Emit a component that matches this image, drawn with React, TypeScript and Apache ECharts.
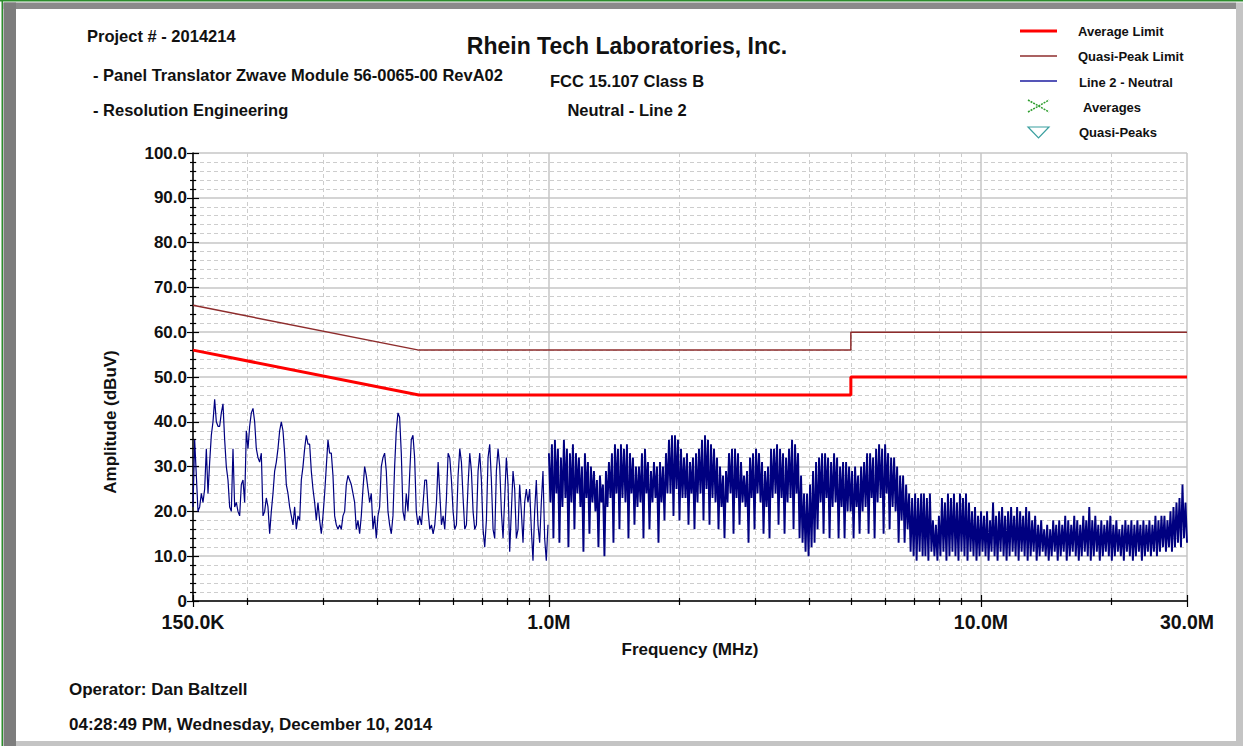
import React, { useEffect, useRef } from "react";
import * as echarts from "echarts";

// ---------- DATA ----------
// Limits (frequency in MHz, level in dBuV)
const limitFreqs = [0.15, 0.5, 5, 5, 30];
const avgLimit = [56, 46, 46, 50, 50];
const qpLimit = [66, 56, 56, 60, 60];

// Measured trace "Line 2 - Neutral", read off the plot, in sweep segments
// (each segment: start MHz, end MHz, levels in dBuV spread across it)
const seg1Values = [
  21, 36, 28, 20, 21, 24, 22, 25, 34, 24,
  31, 37, 40, 45, 40, 39, 39, 42, 44, 36,
  30, 27, 21, 20, 34, 21, 22, 20, 19, 26,
  27, 22, 38, 34, 39, 42, 43, 40, 34, 32,
  31, 33, 19, 20, 23, 21, 15, 20, 24, 29,
  31, 34, 38, 40, 38, 33, 26, 24, 21, 19,
  17, 21, 16, 19, 18, 27, 30, 34, 37, 35,
  35, 29, 25, 22, 18, 22, 18, 15, 19, 24,
  30, 36, 33, 33, 28, 19, 17, 16, 17, 16,
  19, 20, 26, 28, 27, 26, 24, 22, 16, 18,
  15, 19, 25, 30, 28, 25, 22, 24, 16, 19,
  14, 19, 21, 30, 32, 33, 29, 20, 17, 15,
  19, 30, 38, 42, 41, 33, 20, 18, 24, 20,
  28, 36, 37, 32, 20, 17, 19,
];
const seg2Values = [
  17, 22, 27, 27, 20, 16, 17, 15, 17, 22,
  31, 24, 17, 19, 16, 23, 33, 32, 27, 20,
  16, 17, 28, 34, 31, 23, 16, 17, 26, 33,
  29, 20, 16, 17, 29, 33, 27, 16, 12, 18,
  32, 35, 27, 16, 14, 29, 34, 30, 20, 14,
  23, 32, 26, 11, 20, 29, 25, 14, 16, 26,
  20, 13, 22, 25, 22, 25, 16, 9, 20, 27,
  17, 13, 22, 29, 14, 9, 17,
];
const seg3Values = [
  33, 22, 35, 14, 36, 24, 34, 13, 32, 21,
  36, 23, 34, 12, 33, 22, 35, 16, 33, 24,
  32, 21, 30, 11, 33, 23, 31, 15, 30, 22,
  29, 20, 27, 12, 28, 22, 26, 10, 29, 21,
  31, 23, 33, 13, 35, 24, 34, 16, 35, 23,
  34, 22, 35, 14, 33, 24, 32, 17, 30, 21,
  30, 22, 33, 14, 34, 24, 31, 16, 29, 22,
  31, 23, 30, 13, 31, 22, 30, 18, 33, 24,
  36, 24, 37, 19, 37, 25, 36, 18, 34, 23,
  32, 23, 33, 17, 31, 24, 32, 16, 33, 22,
  34, 24, 36, 18, 37, 25, 36, 17, 35, 23,
  34, 22, 32, 16, 30, 21, 28, 14, 29, 22,
  33, 24, 34, 15, 34, 23, 33, 17, 31, 22,
  28, 21, 29, 13, 32, 23, 33, 16, 34, 24,
  33, 22, 31, 15, 29, 21, 30, 14, 34, 23,
  34, 24, 35, 17, 34, 23, 33, 15, 32, 22,
  34, 23, 36, 16, 35, 24, 33, 14, 28, 13,
  24, 11, 24, 10, 26, 12, 29, 13, 31, 16,
  32, 22, 33, 15, 33, 23, 32, 14, 31, 21,
  33, 22, 32, 14, 30, 21, 31, 14, 31, 20,
  30, 20, 29, 14, 30, 21, 28, 15, 30, 20,
  31, 21, 33, 15, 33, 23, 32, 14, 34, 22,
  35, 23, 34, 15, 35, 24, 33, 16, 32, 21,
  32, 20, 30, 13, 28, 18, 28, 13, 26, 16,
  24, 11, 23, 10, 24, 9, 23, 11, 24, 10,
];
const seg4Values = [
  24, 10, 23, 9, 24, 11, 18, 10, 17, 9,
  19, 10, 23, 11, 22, 9, 24, 10, 23, 11,
  24, 10, 22, 9, 24, 11, 23, 10, 24, 9,
  22, 11, 20, 10, 21, 9, 19, 10, 20, 11,
  19, 10, 20, 9, 18, 11, 22, 10, 19, 9,
  20, 11, 21, 10, 19, 9, 20, 10, 21, 11,
  19, 10, 21, 9, 20, 11, 19, 10, 21, 9,
  20, 10, 18, 11, 19, 9, 17, 10, 18, 11,
  16, 10, 17, 9, 16, 10, 18, 11, 17, 9,
  18, 10, 17, 11, 19, 9, 18, 10, 17, 11,
  19, 10, 18, 9, 17, 10, 19, 11, 18, 10,
  21, 9, 18, 10, 19, 11, 17, 9, 18, 10,
  17, 11, 18, 10, 19, 9, 17, 10, 18, 11,
  16, 10, 17, 9, 18, 11, 17, 10, 18, 9,
  17, 10, 18, 11, 17, 9, 18, 10, 17, 11,
  18, 10, 17, 11, 19, 10, 18, 11, 19, 12,
  19, 11, 18, 12, 20, 11, 21, 12, 22, 13,
  23, 12, 26, 14, 22, 13,
];
const segStart = [0.15, 0.507, 1.0, 7.38];
const segEnd = [0.502, 0.995, 7.33, 30];
const segValues = [seg1Values, seg2Values, seg3Values, seg4Values];

// ---------- HELPERS ----------
const FONT = '"Liberation Sans", Arial, Helvetica, sans-serif';

function buildTrace(segIdx: number[]): number[][] {
  const pts: number[][] = [];
  segIdx.forEach((s) => {
    const vals = segValues[s];
    const n = vals.length;
    const ratio = segEnd[s] / segStart[s];
    vals.forEach((v, i) => {
      pts.push([segStart[s] * Math.pow(ratio, i / (n - 1)), v]);
    });
  });
  return pts;
}

function pairs(xs: number[], ys: number[]): number[][] {
  return xs.map((x, i) => [x, ys[i]]);
}

function freqLabel(v: number): string {
  if (v < 1) return (v * 1000).toFixed(1) + "K";
  return v.toFixed(1) + "M";
}

function txt(text: string, x: number, y: number, size: number, align = "left", rotation = 0) {
  return {
    type: "text",
    x,
    y,
    rotation,
    silent: true,
    style: {
      text,
      fill: "#111",
      fontSize: size,
      fontWeight: "bold",
      fontFamily: FONT,
      align,
      textAlign: align,
      verticalAlign: "middle",
      textVerticalAlign: "middle",
    },
  };
}

function seg(x1: number, y1: number, x2: number, y2: number, color: string, w: number) {
  return {
    type: "line",
    silent: true,
    shape: { x1, y1, x2, y2 },
    style: { stroke: color, lineWidth: w },
  };
}

function hline(x1: number, x2: number, y: number, color: string, w: number) {
  return seg(x1, y, x2, y, color, w);
}

export default function App() {
  const ref = useRef<HTMLDivElement>(null);

  useEffect(() => {
    if (!ref.current) return;
    const chart = echarts.init(ref.current, undefined, { renderer: "svg" });

    const axisLabelStyle = {
      color: "#111",
      fontWeight: "bold",
      fontFamily: FONT,
    };

    const xBase = {
      type: "log",
      logBase: 10,
      min: 0.15,
      max: 30,
      gridIndex: 0,
      position: "bottom",
    };
    const yBase = {
      type: "value",
      min: 0,
      max: 100,
      interval: 10,
      gridIndex: 0,
      position: "left",
    };

    const option: any = {
      animation: false,
      backgroundColor: "#ffffff",
      grid: { left: 193, top: 153, width: 994, height: 448, containLabel: false },
      xAxis: [
        {
          ...xBase,
          axisLine: { show: true, onZero: false, lineStyle: { color: "#000", width: 1.5 } },
          axisTick: { show: true, length: 6, lineStyle: { color: "#000", width: 1.2 } },
          minorTick: { show: true, splitNumber: 9, length: 4, lineStyle: { color: "#000", width: 1.2 } },
          splitLine: { show: true, lineStyle: { color: "#c6c6c6", width: 1.5 } },
          minorSplitLine: { show: true, lineStyle: { color: "#cdcdcd", width: 1, type: [4, 3] } },
          axisLabel: {
            ...axisLabelStyle,
            fontSize: 19.5,
            margin: 11,
            showMinLabel: true,
            showMaxLabel: true,
            hideOverlap: false,
            formatter: (v: number) => freqLabel(v),
          },
        },
        {
          ...xBase,
          axisLine: { show: false },
          axisTick: { show: true, inside: true, length: 6, lineStyle: { color: "#000", width: 1.2 } },
          minorTick: { show: true, splitNumber: 9, length: 3, lineStyle: { color: "#000", width: 1.2 } },
          splitLine: { show: false },
          minorSplitLine: { show: false },
          axisLabel: { show: false },
        },
      ],
      yAxis: [
        {
          ...yBase,
          axisLine: { show: true, onZero: false, lineStyle: { color: "#000", width: 1.5 } },
          axisTick: { show: true, length: 6, lineStyle: { color: "#000", width: 1.2 } },
          minorTick: { show: true, splitNumber: 5, length: 3, lineStyle: { color: "#000", width: 1.2 } },
          splitLine: { show: true, lineStyle: { color: "#c6c6c6", width: 1.5 } },
          minorSplitLine: { show: true, lineStyle: { color: "#cdcdcd", width: 1, type: [4, 3] } },
          axisLabel: {
            ...axisLabelStyle,
            fontSize: 17,
            margin: 6,
            formatter: (v: number) => (v === 0 ? "0" : v.toFixed(1)),
          },
        },
        {
          ...yBase,
          axisLine: { show: false },
          axisTick: { show: true, inside: true, length: 6, lineStyle: { color: "#000", width: 1.2 } },
          minorTick: { show: true, splitNumber: 5, length: 3, lineStyle: { color: "#000", width: 1.2 } },
          splitLine: { show: false },
          minorSplitLine: { show: false },
          axisLabel: { show: false },
        },
      ],
      series: [
        {
          name: "Line 2 - Neutral",
          type: "line",
          xAxisIndex: 0,
          yAxisIndex: 0,
          data: buildTrace([0, 1]),
          showSymbol: false,
          symbol: "none",
          lineStyle: { color: "#000080", width: 1.2 },
          z: 3,
        },
        {
          name: "Line 2 - Neutral (dense sweep)",
          type: "line",
          xAxisIndex: 0,
          yAxisIndex: 0,
          data: buildTrace([2, 3]),
          showSymbol: false,
          symbol: "none",
          lineStyle: { color: "#000080", width: 1.9 },
          z: 3,
        },
        {
          name: "Quasi-Peak Limit",
          type: "line",
          xAxisIndex: 0,
          yAxisIndex: 0,
          data: pairs(limitFreqs, qpLimit),
          showSymbol: false,
          symbol: "none",
          lineStyle: { color: "#8e2c2c", width: 1.5 },
          z: 4,
        },
        {
          name: "Average Limit",
          type: "line",
          xAxisIndex: 0,
          yAxisIndex: 0,
          data: pairs(limitFreqs, avgLimit),
          showSymbol: false,
          symbol: "none",
          lineStyle: { color: "#ff0000", width: 3 },
          z: 5,
        },
      ],
      graphic: [
        // window frame (drawn as thick strokes)
        seg(3.5, 5.75, 1236, 5.75, "#8a8a8a", 6.5),
        seg(9.75, 2.5, 9.75, 746, "#7d7d7d", 12.5),
        seg(1239.5, 2.5, 1239.5, 746, "#c4c4c4", 7),
        seg(16, 743.5, 1243, 743.5, "#c4c4c4", 5),
        seg(0, 0.75, 1243, 0.75, "#2c8c2c", 1.5),
        seg(2.25, 0, 2.25, 746, "#2c8c2c", 1.5),
        // header texts
        txt("Project # - 2014214", 87, 36, 16.5),
        txt("- Panel Translator Zwave Module 56-0065-00 RevA02", 93, 75, 16.5),
        txt("- Resolution Engineering", 93, 110, 16.5),
        txt("Rhein Tech Laboratories, Inc.", 627, 46, 23, "center"),
        txt("FCC 15.107 Class B", 627, 81, 16.5, "center"),
        txt("Neutral - Line 2", 627, 110, 16.5, "center"),
        // legend
        hline(1020, 1057, 31, "#ff0000", 3),
        hline(1020, 1057, 56, "#8e2c2c", 1.5),
        hline(1020, 1057, 81, "#1c1ca0", 1.5),
        { type: "line", silent: true, shape: { x1: 1028, y1: 100, x2: 1049, y2: 112 }, style: { stroke: "#2f9e2f", lineWidth: 1.5, lineDash: [2, 1] } },
        { type: "line", silent: true, shape: { x1: 1028, y1: 112, x2: 1049, y2: 100 }, style: { stroke: "#2f9e2f", lineWidth: 1.5, lineDash: [2, 1] } },
        { type: "polygon", silent: true, shape: { points: [[1028, 127], [1049, 127], [1038.5, 138]] }, style: { fill: "none", stroke: "#3a9f9f", lineWidth: 1.2 } },
        txt("Average Limit", 1078, 31, 13),
        txt("Quasi-Peak Limit", 1078, 56, 13),
        txt("Line 2 - Neutral", 1079, 82, 13),
        txt("Averages", 1083, 107, 13),
        txt("Quasi-Peaks", 1079, 132, 13),
        // axis names
        txt("Amplitude (dBuV)", 110, 422, 17, "center", Math.PI / 2),
        txt("Frequency (MHz)", 690, 649, 17, "center"),
        // footer
        txt("Operator: Dan Baltzell", 69, 689, 17),
        txt("04:28:49 PM, Wednesday, December 10, 2014", 69, 724, 17),
      ],
    };

    chart.setOption(option);
    return () => chart.dispose();
  }, []);

  return (
    <div
      ref={ref}
      style={{ position: "absolute", left: 0, top: 0, width: 1243, height: 746, background: "#fff" }}
    />
  );
}
